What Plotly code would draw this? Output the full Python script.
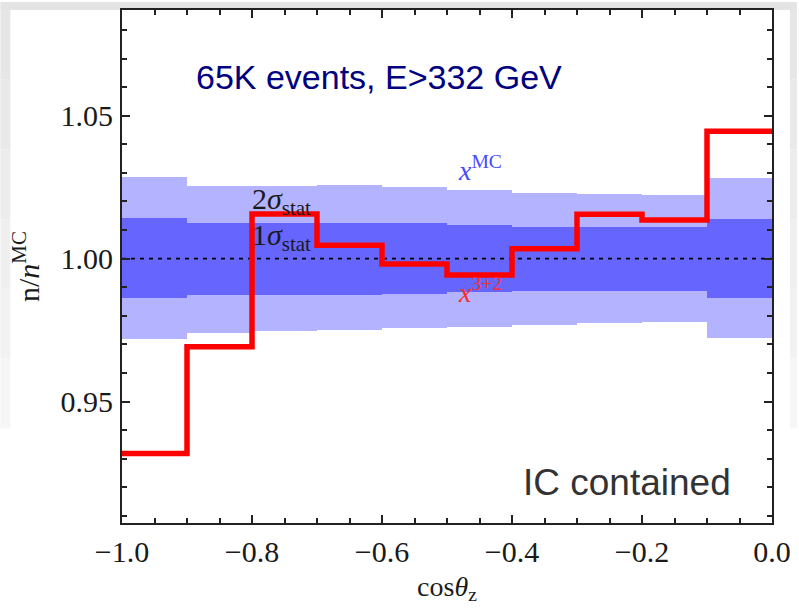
import plotly.graph_objects as go

# Zenith-angle bins and the ratio n/n^MC for each bin
bin_lo = [-1.0, -0.9, -0.8, -0.7, -0.6, -0.5, -0.4, -0.3, -0.2, -0.1]
bin_hi = [-0.9, -0.8, -0.7, -0.6, -0.5, -0.4, -0.3, -0.2, -0.1, 0.0]
ratio_32 = [0.9318, 0.9692, 1.0156, 1.0047, 0.9981, 0.9943, 1.0035, 1.0155, 1.0135, 1.0446]

# Statistical uncertainty bands around the MC expectation
sigma2_hi = [1.0284, 1.0253, 1.0254, 1.0257, 1.0251, 1.0239, 1.0231, 1.0225, 1.0224, 1.0282]
sigma1_hi = [1.0143, 1.0125, 1.0125, 1.0125, 1.0123, 1.0117, 1.0111, 1.0111, 1.0111, 1.0140]
sigma1_lo = [0.9862, 0.9873, 0.9873, 0.9873, 0.9877, 0.9885, 0.9887, 0.9887, 0.9887, 0.9862]
sigma2_lo = [0.9719, 0.9740, 0.9746, 0.9752, 0.9757, 0.9760, 0.9769, 0.9775, 0.9777, 0.9722]

x_range = [-1.0, 0.0]
y_range = [0.9075, 1.087]

SERIF = "Liberation Serif, Times New Roman, serif"
SANS = "Liberation Sans, Arial, sans-serif"

centers = [(a + b) / 2 for a, b in zip(bin_lo, bin_hi)]
widths = [b - a for a, b in zip(bin_lo, bin_hi)]

fig = go.Figure()

# 2-sigma band
fig.add_trace(go.Bar(
    x=centers, base=sigma2_lo,
    y=[h - l for h, l in zip(sigma2_hi, sigma2_lo)],
    width=widths, marker=dict(color="#b3b3ff", line=dict(width=0)),
    showlegend=False, hoverinfo="skip",
))
# 1-sigma band
fig.add_trace(go.Bar(
    x=centers, base=sigma1_lo,
    y=[h - l for h, l in zip(sigma1_hi, sigma1_lo)],
    width=widths, marker=dict(color="#6666ff", line=dict(width=0)),
    showlegend=False, hoverinfo="skip",
))

# Reference line at ratio 1
fig.add_trace(go.Scatter(
    x=x_range, y=[1.0, 1.0], mode="lines",
    line=dict(color="black", width=1.6, dash="4px,5px"),
    showlegend=False, hoverinfo="skip",
))

# 3+2 histogram as a step line
step_x = bin_lo + [bin_hi[-1]]
step_y = ratio_32 + [ratio_32[-1]]
fig.add_trace(go.Scatter(
    x=step_x, y=step_y, mode="lines", line_shape="hv",
    line=dict(color="#ff0000", width=5.5),
    showlegend=False, hoverinfo="skip",
))

ML, MR, MT, MB = 122, 25, 8, 85
W, H = 799, 608
PW, PH = W - ML - MR, H - MT - MB


def px_x(p):
    return (p - ML) / PW


def px_y(p):
    return (H - MB - p) / PH


# Gray slide border around the figure
shapes = []
shapes.append(dict(type="rect", xref="paper", yref="paper",
                   x0=px_x(0), x1=px_x(W), y0=px_y(8), y1=px_y(0),
                   fillcolor="#e4e4e4", line=dict(width=0), layer="below"))
grays = ["#e6e6e6", "#e9e9e9", "#ececec", "#efefef", "#f2f2f2", "#f6f6f6"]
seg = 70
for i, g in enumerate(grays):
    y0p, y1p = 8 + i * seg, 8 + (i + 1) * seg
    shapes.append(dict(type="rect", xref="paper", yref="paper",
                       x0=px_x(0), x1=px_x(10), y0=px_y(y1p), y1=px_y(y0p),
                       fillcolor=g, line=dict(width=0), layer="below"))
    shapes.append(dict(type="rect", xref="paper", yref="paper",
                       x0=px_x(792), x1=px_x(W), y0=px_y(y1p), y1=px_y(y0p),
                       fillcolor=g, line=dict(width=0), layer="below"))

annotations = [
    dict(x=-0.604, y=1.0636, text="65K events, E>332 GeV", showarrow=False,
         font=dict(family=SANS, size=34, color="#000080")),
    dict(x=-0.060, y=0.9218, text="IC contained", showarrow=False,
         xanchor="right",
         font=dict(family=SANS, size=37, color="#333333")),
    dict(x=-0.755, y=1.0201, text="2<i>σ</i><sub>stat</sub>", showarrow=False,
         font=dict(family=SERIF, size=30, color="#1a1a1a")),
    dict(x=-0.755, y=1.0075, text="1<i>σ</i><sub>stat</sub>", showarrow=False,
         font=dict(family=SERIF, size=30, color="#1a1a1a")),
    dict(x=-0.449, y=1.0315, text="<i>x</i><sup>MC</sup>", showarrow=False,
         font=dict(family=SERIF, size=28, color="#4848ff")),
    dict(x=-0.449, y=0.9890, text="<i>x</i><sup>3+2</sup>", showarrow=False,
         font=dict(family=SERIF, size=28, color="#ff2a2a")),
]

axis_common = dict(
    showgrid=False, zeroline=False, showline=True, linecolor="#222222",
    linewidth=2, mirror="allticks", ticks="inside", tickcolor="#222222",
    tickwidth=1.6, ticklen=8,
    tickfont=dict(family=SERIF, size=30, color="#1a1a1a"),
)

fig.update_layout(
    width=W, height=H,
    margin=dict(l=ML, r=MR, t=MT, b=MB, pad=0),
    paper_bgcolor="white", plot_bgcolor="white",
    barmode="overlay", bargap=0,
    shapes=shapes, annotations=annotations,
    xaxis=dict(
        range=x_range, dtick=0.2, tick0=-1.0, tickformat=".1f",
        minor=dict(dtick=0.05, tick0=-1.0, ticks="inside", ticklen=5,
                   tickcolor="#222222", tickwidth=1.6),
        ticklabelstandoff=1,
        title=dict(text="cos<i>θ</i><sub>z</sub>", standoff=9,
                   font=dict(family=SERIF, size=28, color="#1a1a1a")),
        **axis_common,
    ),
    yaxis=dict(
        range=y_range, dtick=0.05, tick0=1.0, tickformat=".2f",
        minor=dict(dtick=0.01, tick0=1.0, ticks="inside", ticklen=5,
                   tickcolor="#222222", tickwidth=1.6),
        ticklabelstandoff=1,
        title=dict(text="n/<i>n</i><sup>MC</sup>", standoff=12,
                   font=dict(family=SERIF, size=30, color="#1a1a1a")),
        **axis_common,
    ),
)

fig.write_html("out.html")
